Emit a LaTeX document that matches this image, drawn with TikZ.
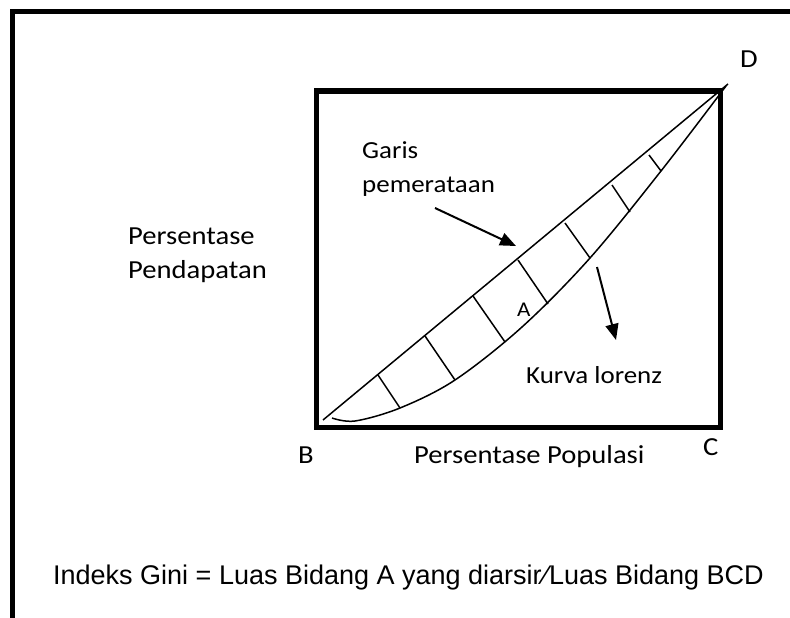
\documentclass[tikz,border=0pt]{standalone}
\usepackage{fontspec}
\setmainfont{Carlito}[FakeStretch=1.1]
\newfontfamily\arialfont{Liberation Sans}
\usetikzlibrary{positioning,arrows.meta}

\begin{document}
\begin{tikzpicture}[
            x=1pt, y=-1pt,
            frame/.style={line width=5pt},
            curve/.style={line width=1.5pt},
            arrow/.style={-{Triangle[length=16pt,width=13pt]}, line width=2pt},
            lbl/.style={inner sep=0pt, anchor=base west, font=\fontsize{26}{31}\selectfont},
            small lbl/.style={lbl, font=\fontsize{24.5}{29}\selectfont}
        ]
        \useasboundingbox (0,0) rectangle (790,618);
        % outer frame (open at right and bottom)
        \draw[frame] (790,11.5) -- (12.5,11.5) -- (12.5,618);
        % box BCD
        \draw[frame] (316,91) rectangle (720,427);
        \coordinate (B0) at (323,420);
        \coordinate (D0) at (728,84);
        % garis pemerataan and kurva lorenz
        \draw[curve] (B0) -- (D0);
        \draw[curve] plot[smooth, tension=0.55] coordinates {(332,418) (355,421) (400,408) (455,380) (522,327) (590,258) (661,171) (726,86)};
        \foreach \xa/\ya/\xb/\yb in {378/375/400/408, 425/336/455/380, 473/296/505/342, 518/260/548/304, 565/223/590/258, 612/185/630/212, 649/155/661/171}
            \draw[curve] (\xa,\ya) -- (\xb,\yb);
        \node[lbl] (persentase) at (128,244) {Persentase};
        \node[lbl] (pendapatan) at ([yshift=-34pt]persentase.base west) {Pendapatan};
        \node[small lbl] (garis) at (362,158) {Garis};
        \node[small lbl] (pemerataan) at ([yshift=-34pt]garis.base west) {pemerataan};
        \node[lbl, font=\fontsize{21}{25}\selectfont] (A) at (517,316) {A};
        \node[small lbl] (kurva) at (526,383) {Kurva lorenz};
        \node[lbl] (B) at (298,463) {B};
        \node[lbl] (populasi) at (414,463) {Persentase Populasi};
        \node[lbl] (C) at (703,455) {C};
        \node[lbl] (D) at (740,67) {D};
        \coordinate (gstart) at (435,208);
        \coordinate (gend) at (516,246);
        \coordinate (kstart) at (597,267);
        \coordinate (kend) at (616,340);
        \draw[arrow] (gstart) -- (gend);
        \draw[arrow] (kstart) -- (kend);
        \node[inner sep=0pt, anchor=base west, font=\arialfont\fontsize{27}{32}\selectfont] (gini) at (53,584) {Indeks Gini = Luas Bidang A yang diarsir\kern2pt∕\kern1ptLuas Bidang BCD};
        \end{tikzpicture}
\end{document}
